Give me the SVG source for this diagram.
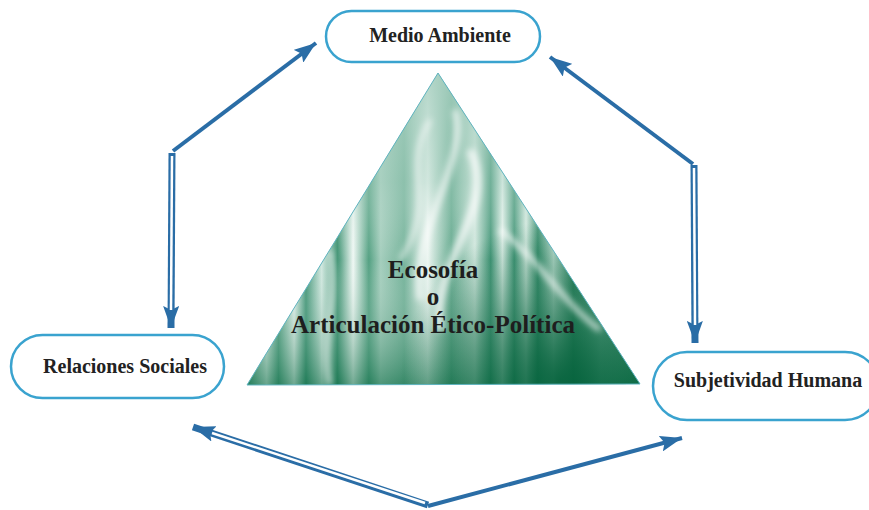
<svg xmlns="http://www.w3.org/2000/svg" width="869" height="510" viewBox="0 0 869 510">
<style>
.box{fill:#fff;stroke:#3aa3cf;stroke-width:2.5}
.lbl{font-family:"Liberation Serif","Times New Roman",serif;font-weight:bold;font-size:20px;fill:#222;text-anchor:middle}
.tri{font-family:"Liberation Serif","Times New Roman",serif;font-weight:bold;font-size:25px;fill:#1e1e1e;text-anchor:middle}
.solid{fill:none;stroke:#2a6da6;stroke-width:4}
.dbl{fill:none;stroke:#2a6da6;stroke-width:7}
.inner{fill:none;stroke:#fff;stroke-width:2.5}
</style>
<defs>
<marker id="ah" markerUnits="userSpaceOnUse" markerWidth="24" markerHeight="16" refX="22" refY="8" orient="auto-start-reverse" viewBox="0 0 24 16">
<path d="M0,0 L22,8 L0,16 L4,8 z" fill="#2a6da6"/>
</marker>
<clipPath id="tc"><polygon points="438,73 247,385 640,384"/></clipPath>
<linearGradient id="gH" x1="247" y1="0" x2="640" y2="0" gradientUnits="userSpaceOnUse">
<stop offset="0" stop-color="#3b9473"/>
<stop offset="0.05" stop-color="#d9ede5"/>
<stop offset="0.08" stop-color="#4d9d7e"/>
<stop offset="0.12" stop-color="#e6f3ee"/>
<stop offset="0.15" stop-color="#3a9171"/>
<stop offset="0.19" stop-color="#cfe7de"/>
<stop offset="0.23" stop-color="#2f8a67"/>
<stop offset="0.27" stop-color="#eef7f3"/>
<stop offset="0.31" stop-color="#4b9c7c"/>
<stop offset="0.34" stop-color="#9fcbb9"/>
<stop offset="0.40" stop-color="#6cae94"/>
<stop offset="0.46" stop-color="#e9f4ef"/>
<stop offset="0.52" stop-color="#5aa487"/>
<stop offset="0.58" stop-color="#cfe6dc"/>
<stop offset="0.62" stop-color="#3a9171"/>
<stop offset="0.65" stop-color="#e0f0e9"/>
<stop offset="0.68" stop-color="#3a9171"/>
<stop offset="0.71" stop-color="#d3e9df"/>
<stop offset="0.74" stop-color="#2b8663"/>
<stop offset="0.78" stop-color="#c0dfd2"/>
<stop offset="0.83" stop-color="#1f7b55"/>
<stop offset="0.9" stop-color="#6aae93"/>
<stop offset="1" stop-color="#1c7a53"/>
</linearGradient>
<linearGradient id="gV" x1="0" y1="73" x2="0" y2="385" gradientUnits="userSpaceOnUse">
<stop offset="0" stop-color="#a9d0c1" stop-opacity="0.85"/>
<stop offset="0.35" stop-color="#b5d7ca" stop-opacity="0.45"/>
<stop offset="0.6" stop-color="#ffffff" stop-opacity="0.05"/>
<stop offset="1" stop-color="#0b6a43" stop-opacity="0.55"/>
</linearGradient>
<radialGradient id="gD" cx="560" cy="380" r="160" gradientUnits="userSpaceOnUse">
<stop offset="0" stop-color="#05623c" stop-opacity="0.9"/>
<stop offset="1" stop-color="#05623c" stop-opacity="0"/>
</radialGradient>
<filter id="bl"><feGaussianBlur stdDeviation="3"/></filter>
</defs>

<g id="triangle">
<g clip-path="url(#tc)">
<rect x="240" y="70" width="410" height="320" fill="url(#gH)"/>
<rect x="240" y="70" width="410" height="320" fill="url(#gV)"/>
<rect x="240" y="70" width="410" height="320" fill="url(#gD)"/>
<g filter="url(#bl)" fill="none" stroke="#fff" stroke-opacity="0.75">
<path d="M455,110 C470,160 410,230 420,300" stroke-width="6"/>
<path d="M470,150 C500,210 430,260 440,330" stroke-width="8"/>
<path d="M430,120 C400,170 440,200 400,260" stroke-width="4"/>
<path d="M500,230 C540,260 560,300 600,330" stroke-width="5"/>
<path d="M330,250 C340,300 320,340 330,385" stroke-width="4"/>
</g>
</g>
<polygon points="438,73 247,385 640,384" fill="none" stroke="#5fb3bf" stroke-width="1"/>
<text class="tri" x="433" y="278">Ecosofía</text>
<text class="tri" x="433" y="305">o</text>
<text class="tri" x="433" y="333">Articulación Ético-Política</text>
</g>

<g id="medio-ambiente">
<rect class="box" x="326" y="11" width="214" height="51" rx="25.5"/>
<text class="lbl" x="440" y="42">Medio Ambiente</text>
</g>
<g id="relaciones-sociales">
<rect class="box" x="11" y="335" width="213" height="63" rx="31.5"/>
<text class="lbl" x="125" y="373">Relaciones Sociales</text>
</g>
<g id="subjetividad-humana">
<rect class="box" x="653" y="352" width="226" height="68" rx="34"/>
<text class="lbl" x="768" y="387">Subjetividad Humana</text>
</g>

<g id="connectors">
<path class="solid" d="M173,151 L316,43" marker-end="url(#ah)"/>
<path class="dbl" d="M172,153 L171,328" marker-end="url(#ah)"/>
<path class="inner" d="M172,156 L171,310"/>
<path class="solid" d="M693,164 L550,57" marker-end="url(#ah)"/>
<path class="dbl" d="M694,165 L695,343" marker-end="url(#ah)"/>
<path class="inner" d="M694,168 L695,325"/>
<path class="dbl" d="M428,505 L193,427" marker-end="url(#ah)"/>
<path class="inner" d="M425,503 L212,433"/>
<path class="solid" d="M428,506 L682,438" marker-end="url(#ah)"/>
</g>
</svg>
